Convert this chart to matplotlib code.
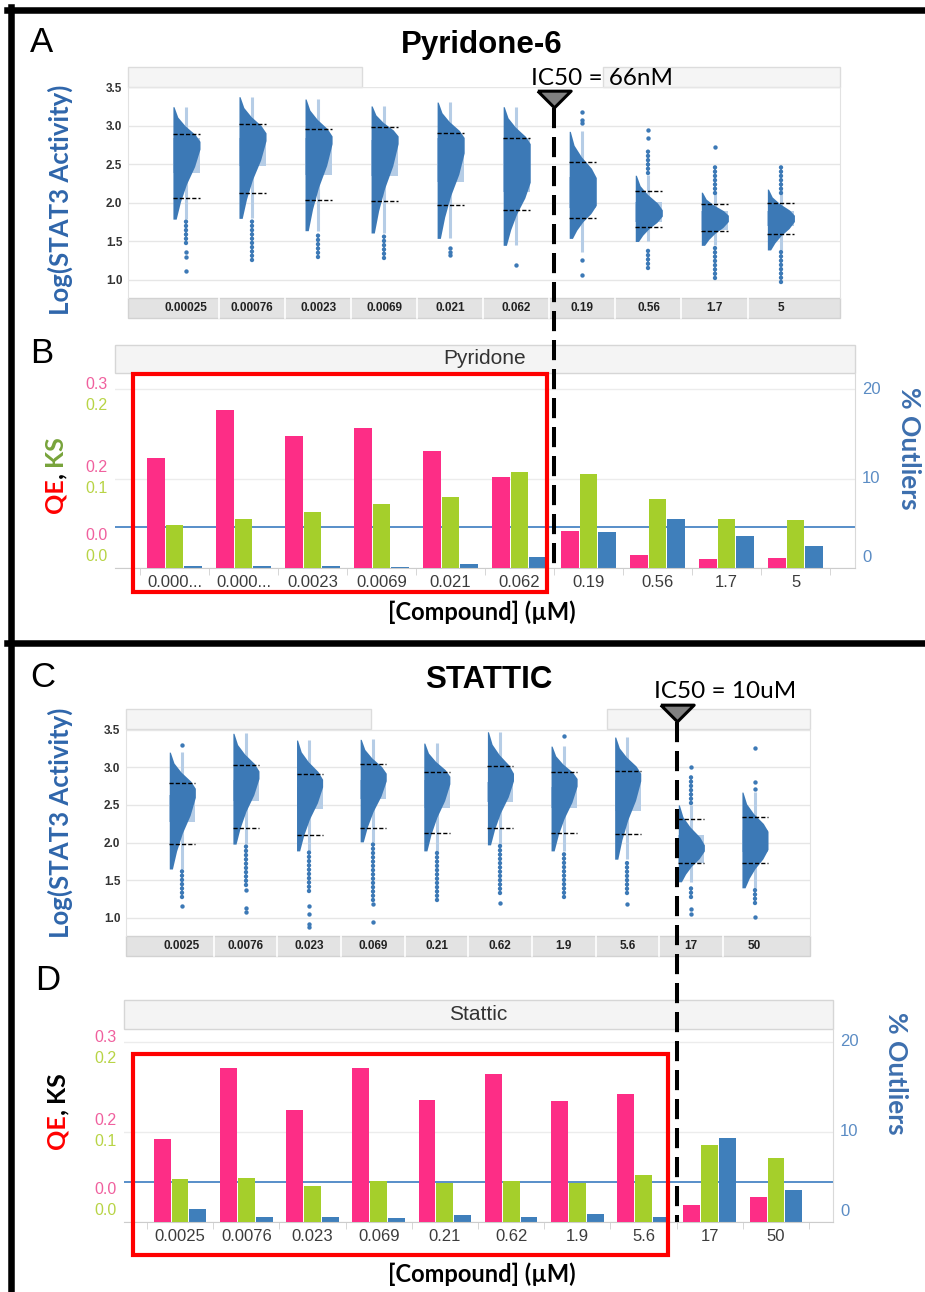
import matplotlib
matplotlib.use('Agg')
import matplotlib.pyplot as plt
import matplotlib.transforms as mtransforms
from matplotlib.lines import Line2D
from matplotlib.patches import Rectangle
import numpy as np

plt.rcParams['font.family'] = ['Liberation Sans', 'DejaVu Sans']
CAL = ['Lato', 'DejaVu Sans']

W, H = 925, 1292

# ---------------- data ----------------
pyr_labels = ['0.00025', '0.00076', '0.0023', '0.0069', '0.021', '0.062',
              '0.19', '0.56', '1.7', '5']
pyr_bar_labels = ['0.000...', '0.000...', '0.0023', '0.0069', '0.021', '0.062',
                  '0.19', '0.56', '1.7', '5']
sta_labels = ['0.0025', '0.0076', '0.023', '0.069', '0.21', '0.62',
              '1.9', '5.6', '17', '50']

# panel A: log(STAT3 activity) distributions, pyridone-6
a_top = [3.25, 3.38, 3.35, 3.26, 3.31, 3.25, 2.93, 2.36, 2.14, 2.18]
a_peak = [2.75, 2.86, 2.82, 2.82, 2.75, 2.52, 2.15, 1.87, 1.80, 1.80]
a_flat = [0.05, 0.05, 0.05, 0.05, 0.10, 0.25, 0.18, 0.04, 0.04, 0.04]
a_bot = [1.79, 1.80, 1.64, 1.61, 1.54, 1.45, 1.54, 1.50, 1.45, 1.39]
a_q1 = [2.39, 2.48, 2.36, 2.35, 2.27, 2.14, 1.93, 1.75, 1.65, 1.70]
a_q3 = [2.85, 2.85, 2.84, 2.82, 2.85, 2.84, 2.34, 2.01, 1.89, 1.89]
a_dhi = [2.90, 3.03, 2.96, 2.99, 2.91, 2.84, 2.53, 2.16, 1.99, 2.00]
a_dlo = [2.07, 2.13, 2.04, 2.03, 1.97, 1.91, 1.80, 1.69, 1.64, 1.60]
a_wlo = [1.79, 1.80, 1.64, 1.61, 1.54, 1.45, 1.36, 1.50, 1.45, 1.39]
a_whi = [3.25, 3.38, 3.35, 3.26, 3.31, 3.25, 2.93, 2.36, 2.14, 2.18]
a_dense = [[(1.48, 1.80)], [(1.26, 1.80)], [(1.30, 1.62)], [(1.28, 1.60)], [], [],
           [], [(2.39, 2.69), (1.16, 1.43)], [(2.13, 2.48), (1.03, 1.45)],
           [(2.13, 2.51), (0.97, 1.41)]]
a_dots = [[1.36, 1.30, 1.12], [], [], [], [1.41, 1.36, 1.32], [1.19],
          [3.18, 3.08, 3.04, 1.26, 1.06], [2.95, 2.84], [2.73], []]

# panel C: log(STAT3 activity) distributions, stattic
c_top = [3.20, 3.45, 3.36, 3.37, 3.32, 3.47, 3.28, 3.40, 2.50, 2.67]
c_peak = [2.66, 2.90, 2.79, 2.87, 2.83, 2.87, 2.80, 2.87, 1.93, 2.03]
c_flat = [0.06, 0.05, 0.05, 0.05, 0.05, 0.05, 0.05, 0.05, 0.04, 0.12]
c_bot = [1.65, 1.98, 1.89, 2.01, 1.89, 1.97, 1.89, 1.78, 1.48, 1.40]
c_q1 = [2.27, 2.55, 2.45, 2.58, 2.46, 2.54, 2.46, 2.42, 1.73, 1.88]
c_q3 = [2.63, 2.83, 2.74, 2.83, 2.83, 2.80, 2.74, 2.83, 2.10, 2.17]
c_dhi = [2.79, 3.03, 2.91, 3.04, 2.94, 3.02, 2.94, 2.95, 2.31, 2.34]
c_dlo = [1.98, 2.20, 2.10, 2.19, 2.13, 2.19, 2.13, 2.11, 1.73, 1.73]
c_wlo = [1.65, 1.98, 1.89, 2.01, 1.89, 1.97, 1.89, 1.78, 1.48, 1.40]
c_whi = [3.20, 3.45, 3.36, 3.37, 3.32, 3.47, 3.28, 3.40, 2.50, 2.67]
c_dense = [[(1.28, 1.66)], [(1.44, 2.00)], [(1.36, 1.89)], [(1.24, 2.01)],
           [(1.24, 1.89)], [(1.33, 1.97)], [(1.28, 1.89)], [(1.33, 1.78)],
           [(2.52, 2.91), (1.28, 1.44)], [(1.20, 1.40)]]
c_dots = [[3.29, 1.16], [1.37, 1.13, 1.08], [1.16, 1.05, 0.92, 0.88], [1.19, 0.95],
          [], [1.20], [3.41], [1.19], [3.00, 1.12, 1.05], [3.25, 2.80, 2.71, 1.01]]

# panels B and D: QE, KS and % outliers
b_qe = [0.184, 0.265, 0.221, 0.235, 0.196, 0.153, 0.062, 0.022, 0.015, 0.017]
b_ks = [0.048, 0.055, 0.063, 0.072, 0.079, 0.107, 0.105, 0.077, 0.055, 0.054]
b_out = [0.2, 0.2, 0.2, 0.15, 0.45, 1.2, 4.0, 5.5, 3.6, 2.5]
b_ref = 4.6
d_qe = [0.139, 0.257, 0.187, 0.257, 0.203, 0.247, 0.201, 0.214, 0.028, 0.042]
d_ks = [0.048, 0.049, 0.040, 0.045, 0.043, 0.045, 0.043, 0.052, 0.086, 0.071]
d_out = [1.4, 0.6, 0.5, 0.45, 0.8, 0.5, 0.9, 0.55, 9.3, 3.5]
d_ref = 4.45

qe_ticks = [0.0, 0.15, 0.30]
qe_tick_labels = ['0.0', '0.2', '0.3']
ks_ticks = [0.0, 0.1, 0.2]
ks_tick_labels = ['0.0', '0.1', '0.2']
out_ticks = [0, 10, 20]

ic50_pyr = 5.5   # between 0.062 and 0.19 uM
ic50_sta = 7.5   # between 5.6 and 17 uM

# ---------------- style ----------------
DARK = '#3c79b6'
LIGHT = '#b6cde6'
PINK = '#fd2d86'
GREEN = '#a5cf2b'
BLUE = '#3f7fbb'
HW = 0.41      # histogram width (category units)
WX = 0.2       # whisker offset
# outline of the half-violin: width fraction from top to plateau, plateau to bottom
UP_T = [0, 0.3, 0.55, 0.8, 1.0]
UP_F = [0.04, 0.18, 0.45, 0.82, 1.0]
DN_T = [0, 0.25, 0.5, 0.75, 1.0]
DN_F = [1.0, 0.8, 0.5, 0.28, 0.12]

fig = plt.figure(figsize=(W / 100, H / 100), dpi=100)


def px_axes(x0, y0, x1, y1):
    return fig.add_axes([x0 / W, 1 - y1 / H, (x1 - x0) / W, (y1 - y0) / H])


def ftext(x, y, s, **kw):
    return fig.text(x / W, 1 - y / H, s, **kw)


def dist_panel(ax, labels, top, peak, flat, bot, q1, q3, dhi, dlo, wlo, whi, dense, dots,
               xlim, ylim, gap, strip):
    for i in range(len(labels)):
        ax.add_patch(Rectangle((i, q1[i]), HW, q3[i] - q1[i], fc=LIGHT, ec='none', zorder=1))
        ax.plot([i + WX, i + WX], [wlo[i], whi[i]], color=LIGHT, lw=2.2,
                solid_capstyle='butt', zorder=1)
        p_hi = peak[i] + flat[i]
        p_lo = peak[i] - flat[i]
        ys = [top[i] - t * (top[i] - p_hi) for t in UP_T]
        ys += [p_lo - t * (p_lo - bot[i]) for t in DN_T]
        ws = [i + HW * f for f in UP_F + DN_F]
        ax.fill_betweenx(ys, i, ws, color=DARK, lw=0, zorder=2)
        for lv in (dhi[i], dlo[i]):
            ax.plot([i, i + HW], [lv, lv], color='k', lw=1, ls=(0, (3, 1.5)), zorder=4)
        for lo, hi in dense[i]:
            ax.plot([i + WX, i + WX], [lo, hi], color=DARK, lw=3.2, ls=(0, (0.01, 0.95)),
                    dash_capstyle='round', zorder=3)
        if dots[i]:
            ax.scatter([i + WX] * len(dots[i]), dots[i], s=10, color=DARK, lw=0, zorder=3)
    ax.set_xlim(*xlim)
    ax.set_ylim(*ylim)
    yt = [1.0, 1.5, 2.0, 2.5, 3.0, 3.5]
    ax.set_yticks(yt)
    ax.set_yticklabels(['%.1f' % v for v in yt], fontsize=8.5, fontweight='bold', color='#333333')
    ax.set_xticks([i + WX for i in range(len(labels))])
    ax.set_xticklabels(labels, fontsize=8.5, fontweight='bold', color='#222222')
    ax.tick_params(axis='both', length=0)
    ax.tick_params(axis='x', pad=3)
    ax.tick_params(axis='y', pad=4)
    ax.yaxis.grid(True, color='#e6e6e6', lw=1)
    ax.set_axisbelow(True)
    for sp in ('top', 'bottom'):
        ax.spines[sp].set_visible(False)
    for sp in ('left', 'right'):
        ax.spines[sp].set_color('#e2e2e2')
    # header strip (with the white gap left by the figure assembly)
    for x0, x1 in ((0, gap[0]), (gap[1], 1)):
        ax.add_patch(Rectangle((x0, 1), x1 - x0, strip, transform=ax.transAxes,
                               clip_on=False, fc='#f5f5f5', ec='#dcdcdc', lw=1, zorder=0.1))
    ax.add_patch(Rectangle((0, -strip), 1, strip, transform=ax.transAxes, clip_on=False,
                           fc='#e3e3e3', ec='#d2d2d2', lw=1, zorder=0.1))
    bt = mtransforms.blended_transform_factory(ax.transData, ax.transAxes)
    for i in range(1, len(labels)):
        ax.plot([i + WX - 0.5] * 2, [-strip, 0], color='white', lw=1.2,
                transform=bt, clip_on=False, zorder=0.2)


def bar_panel(ax, labels, qe, ks, out, ref, title, xlim, ytop, hdr, redbox):
    x = np.arange(len(labels))
    axq = ax.twinx()
    axk = ax.twinx()
    ax.set_xlim(*xlim)
    ax.set_ylim(0, ytop)
    axq.set_ylim(0, ytop * 0.015)
    axk.set_ylim(0, ytop * 0.01)
    axq.bar(x - 0.27, qe, 0.255, color=PINK, zorder=2)
    axk.bar(x, ks, 0.255, color=GREEN, zorder=2)
    ax.bar(x + 0.27, out, 0.255, color=BLUE, zorder=2)
    ax.axhline(ref, color='#4a86c5', lw=1.3, zorder=0.8)
    ax.set_yticks(out_ticks)
    ax.tick_params(axis='y', length=0, labelleft=False, labelright=False)
    ax.yaxis.grid(True, color='#ececec', lw=1)
    ax.set_axisbelow(True)
    for a in (axq, axk):
        a.set_yticks([])
        for sp in a.spines.values():
            sp.set_visible(False)
    ax.spines['top'].set_visible(False)
    ax.spines['left'].set_visible(False)
    ax.spines['right'].set_color('#d9d9d9')
    ax.spines['bottom'].set_color('#cccccc')
    ax.set_xticks(x)
    ax.set_xticklabels(labels, fontsize=12, color='#3c3c3c')
    ax.set_xticks(np.arange(-0.5, len(labels), 1.0), minor=True)
    ax.tick_params(axis='x', which='major', length=0, pad=5)
    ax.tick_params(axis='x', which='minor', length=5, color='#d0d0d0')
    ax.add_patch(Rectangle((0, 1), 1, hdr, transform=ax.transAxes, clip_on=False,
                           fc='#f4f4f4', ec='#d6d6d6', lw=1, zorder=0.1))
    ax.text(0.5, 1 + hdr / 2, title, transform=ax.transAxes, ha='center', va='center',
            fontsize=15, color='#333333')
    # stacked left labels: pink QE above, green KS below each grid line
    shift = [22, 1, -6]
    for k in range(3):
        tq = mtransforms.offset_copy(
            mtransforms.blended_transform_factory(axq.transAxes, axq.transData),
            x=-7, y=shift[k] + 10.5, units='dots')
        axq.text(0, qe_ticks[k], qe_tick_labels[k], transform=tq, ha='right', va='center',
                 fontsize=11.5, color='#f0609e')
        tk = mtransforms.offset_copy(
            mtransforms.blended_transform_factory(axk.transAxes, axk.transData),
            x=-7, y=shift[k] - 10.5, units='dots')
        axk.text(0, ks_ticks[k], ks_tick_labels[k], transform=tk, ha='right', va='center',
                 fontsize=11.5, color='#b8d445')
    rshift = [11, 0, 0]
    for k, v in enumerate(out_ticks):
        tr = mtransforms.offset_copy(
            mtransforms.blended_transform_factory(ax.transAxes, ax.transData),
            x=7, y=rshift[k], units='dots')
        ax.text(1, v, str(v), transform=tr, ha='left', va='center', fontsize=12,
                color='#5b8cc4')
    # red highlight box
    rt = mtransforms.blended_transform_factory(axk.transData, axk.transAxes)
    axk.add_patch(Rectangle((redbox[0], redbox[3]), redbox[1] - redbox[0],
                            redbox[2] - redbox[3], transform=rt, fc='none',
                            ec='#ff0000', lw=3, clip_on=False, zorder=10))
    return axq, axk


TRI = [(-1, 0.5), (1, 0.5), (0, -0.5), (-1, 0.5)]


def ic50_marker(ax_ref, xpos, y_tri, label, y_label):
    trans = mtransforms.blended_transform_factory(ax_ref.transData, fig.transFigure)
    y_end = ax_ref.get_position().y0
    fig.add_artist(Line2D([xpos, xpos], [1 - (y_tri + 9) / H, y_end], transform=trans,
                          color='k', lw=2.9, ls=(0, (5, 2.2))))
    fig.add_artist(Line2D([xpos], [1 - y_tri / H], transform=trans, marker=TRI, ms=24,
                          mfc='#808080', mec='k', mew=2.2, ls='none'))
    fig.text(xpos, 1 - y_label / H, label,
             transform=mtransforms.offset_copy(trans, x=-23, units='dots'),
             ha='left', va='baseline', fontsize=17.5, family=CAL)


# ---------------- panels ----------------
axA = px_axes(128, 87, 840, 298)
dist_panel(axA, pyr_labels, a_top, a_peak, a_flat, a_bot, a_q1, a_q3, a_dhi, a_dlo,
           a_wlo, a_whi, a_dense, a_dots, (-0.68, 10.1), (0.766, 3.506), (0.329, 0.667), 0.095)

axB = px_axes(115, 373, 855, 568)
bar_panel(axB, pyr_bar_labels, b_qe, b_ks, b_out, b_ref, 'Pyridone',
          (-0.862, 9.862), 21.8, 0.144, (-0.6, 5.4, 0.995, -0.123))

axC = px_axes(126, 729, 810, 936)
dist_panel(axC, sta_labels, c_top, c_peak, c_flat, c_bot, c_q1, c_q3, c_dhi, c_dlo,
           c_wlo, c_whi, c_dense, c_dots, (-0.68, 10.07), (0.761, 3.507), (0.358, 0.703), 0.097)

axD = px_axes(124, 1029, 833, 1222)
bar_panel(axD, sta_labels, d_qe, d_ks, d_out, d_ref, 'Stattic',
          (-0.846, 9.86), 21.44, 0.150, (-0.71, 7.37, 0.87, -0.17))

ic50_marker(axB, ic50_pyr, 99, 'IC50 = 66nM', 85)
ic50_marker(axD, ic50_sta, 713, 'IC50 = 10uM', 698)

# ---------------- frames and labels ----------------
for xs, ys in (([7, 925], [10, 10]), ([7, 925], [643, 643]), ([11, 11], [7, 1292])):
    fig.add_artist(Line2D([v / W for v in xs], [1 - v / H for v in ys],
                          transform=fig.transFigure, color='k', lw=4.7))

for s, x, y in (('A', 42, 43), ('B', 42, 353), ('C', 43, 678), ('D', 48, 980)):
    ftext(x, y, s, fontsize=25, ha='center', va='center')

ftext(482, 53, 'Pyridone-6', fontsize=22.5, fontweight='bold', ha='center', va='baseline')
ftext(489, 688, 'STATTIC', fontsize=22.5, fontweight='bold', ha='center', va='baseline')

for y in (200, 823):
    ftext(60, y, 'Log(STAT3 Activity)', rotation=90, ha='center', va='center',
          fontsize=18.5, fontweight='bold', color='#2f66ab', family=CAL)

for x, y in ((909, 448), (896, 1073)):
    ftext(x, y, '% Outliers', rotation=270, ha='center', va='center',
          fontsize=19, fontweight='bold', color='#3d6fae', family=CAL)

for y in (620, 1282):
    ftext(482, y, '[Compound] (\u00b5M)', ha='center', va='baseline',
          fontsize=17, fontweight='bold', family=CAL)

renderer = fig.canvas.get_renderer()


def stacked_vertical(x, yc, parts):
    texts = []
    for s, c, gap in parts:
        t = fig.text(0, 0, s, color=c, rotation=90, rotation_mode='anchor', ha='left',
                     va='center', fontsize=18, fontweight='bold', family=CAL)
        texts.append((t, t.get_window_extent(renderer).height + gap))
    total = sum(L for _, L in texts)
    y0 = (H - yc) - total / 2
    for t, L in texts:
        t.set_position((x / W, y0 / H))
        y0 += L


stacked_vertical(55, 474, [('QE', '#ff0000', 1), (',', 'k', 6), ('KS', '#77a33a', 0)])
stacked_vertical(57, 1110, [('QE', '#ff0000', 1), (',', 'k', 6), ('KS', 'k', 0)])

fig.savefig('out.png', dpi=100)
